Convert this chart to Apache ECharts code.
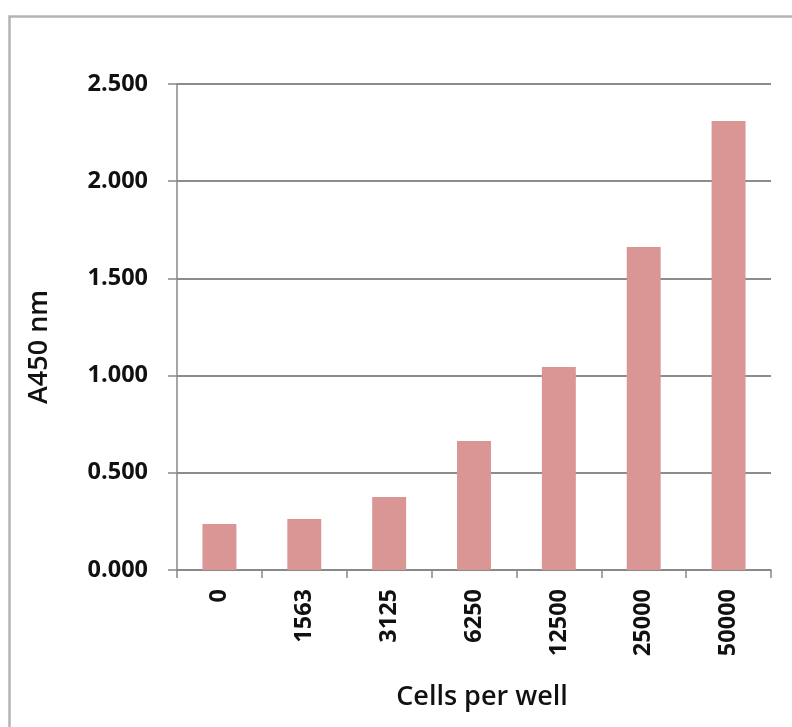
<!DOCTYPE html>
<html><head><meta charset="utf-8">
<script src="https://cdn.jsdelivr.net/npm/echarts@6/dist/echarts.min.js"></script>
<style>html,body{margin:0;padding:0;background:#fff}#c{width:792px;height:727px}</style>
</head><body><div id="c"></div>
<script>
const categories = ['0','1563','3125','6250','12500','25000','50000'];
const values = [0.237, 0.262, 0.376, 0.664, 1.044, 1.662, 2.31];
const yTicks = { min: 0, max: 2.5, interval: 0.5 };
const xTitle = 'Cells per well';
const yTitle = 'A450 nm';

const chart = echarts.init(document.getElementById('c'));
chart.setOption({
  backgroundColor: '#fff',
  animation: false,
  graphic: [{
    type: 'rect', left: 7, top: 14, shape: { x: 0, y: 0, width: 900, height: 800 },
    style: { fill: 'none', stroke: '#b4b4b4', lineWidth: 2.5 }, silent: true
  }, {
    type: 'text', x: 39, y: 347, rotation: Math.PI / 2,
    style: { text: yTitle, fontFamily: 'Open Sans', fontWeight: 600, fontSize: 27, fill: '#111', textAlign: 'center', textVerticalAlign: 'middle' }
  }],
  grid: { left: 177, right: 21, top: 84, bottom: 157 },
  xAxis: {
    type: 'category', data: categories,
    name: xTitle, nameLocation: 'middle', nameGap: 114,
    nameTextStyle: { fontFamily: 'Open Sans', fontWeight: 600, fontSize: 27, color: '#111', padding: [0, 0, 0, 16] },
    axisLine: { lineStyle: { color: '#888', width: 1.5 } },
    axisTick: { show: true, length: 8, alignWithLabel: false, lineStyle: { color: '#888', width: 1.5 } },
    axisLabel: { rotate: 90, margin: 19, fontFamily: 'Open Sans', fontWeight: 'bold', fontSize: 23.5, color: '#111' }
  },
  yAxis: {
    type: 'value', min: yTicks.min, max: yTicks.max, interval: yTicks.interval,
    axisLine: { show: true, lineStyle: { color: '#888', width: 1.5 } },
    axisTick: { show: true, length: 9, lineStyle: { color: '#888', width: 1.5 } },
    splitLine: { lineStyle: { color: '#8c8c8c', width: 2 } },
    axisLabel: { margin: 29, formatter: v => v.toFixed(3), fontFamily: 'Open Sans', fontWeight: 'bold', fontSize: 23.5, color: '#111' }
  },
  series: [{
    type: 'bar', data: values, barWidth: '40%',
    itemStyle: { color: '#d99694' }
  }]
});
</script></body></html>
